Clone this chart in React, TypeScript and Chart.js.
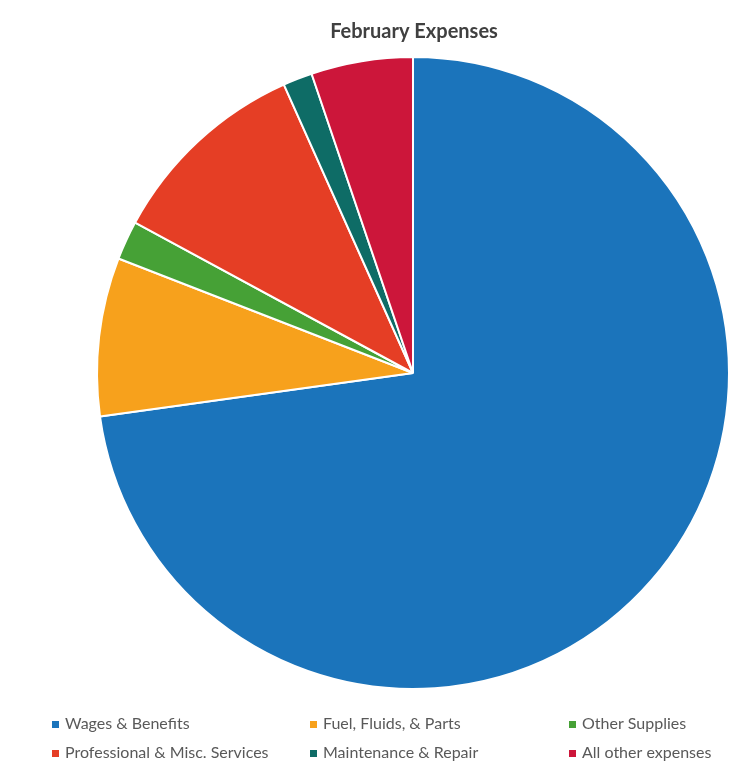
import React, { useEffect, useRef } from "react";
import { Chart, registerables } from "chart.js";

Chart.register(...registerables);

const title = "February Expenses";
const categories = [
  "Wages & Benefits",
  "Fuel, Fluids, & Parts",
  "Other Supplies",
  "Professional & Misc. Services",
  "Maintenance & Repair",
  "All other expenses",
];
const values = [72.8, 8.1, 2.0, 10.4, 1.5, 5.2];
const colors = ["#1b74bb", "#f7a11c", "#46a136", "#e53e25", "#0e6c66", "#cc163a"];

const legendCols = [52, 310, 569];
const legendRows = [724, 753];

const overlayPlugin = {
  id: "overlay",
  afterDraw(chart: any) {
    const ctx = chart.ctx;
    ctx.save();
    ctx.fillStyle = "#404040";
    ctx.font = "bold 20px Lato";
    ctx.textAlign = "center";
    ctx.textBaseline = "middle";
    ctx.fillText(title, 414, 32);
    ctx.font = "16px Lato";
    ctx.textAlign = "left";
    const ds = chart.data.datasets[0];
    chart.data.labels.forEach((lab: string, i: number) => {
      const x = legendCols[i % 3];
      const y = legendRows[Math.floor(i / 3)];
      ctx.fillStyle = ds.backgroundColor[i];
      ctx.fillRect(x, y - 3, 7, 7);
      ctx.fillStyle = "#595959";
      ctx.fillText(lab, x + 13, y);
    });
    ctx.restore();
  },
};

export default function App() {
  const ref = useRef<HTMLCanvasElement>(null);
  useEffect(() => {
    if (!ref.current) return;
    const chart = new Chart(ref.current, {
      type: "pie",
      data: {
        labels: categories,
        datasets: [
          {
            data: values,
            backgroundColor: colors,
            borderColor: "#ffffff",
            borderWidth: 2,
          },
        ],
      },
      options: {
        responsive: false,
        animation: false,
        layout: { padding: { left: 96, right: -2, top: 55, bottom: 85 } },
        plugins: {
          legend: { display: false },
          title: { display: false },
          tooltip: { enabled: false },
        },
      },
      plugins: [overlayPlugin],
    });
    return () => chart.destroy();
  }, []);
  return (
    <div style={{ position: "fixed", left: 0, top: 0, width: 730, height: 776, background: "#fff" }}>
      <canvas ref={ref} width={730} height={776} style={{ width: 730, height: 776 }} />
    </div>
  );
}
